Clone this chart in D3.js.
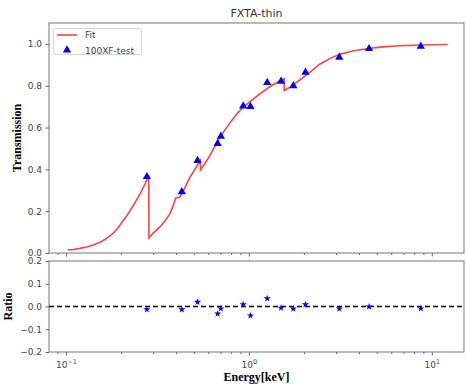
<!DOCTYPE html>
<html>
<head>
<meta charset="utf-8">
<script src="https://cdn.jsdelivr.net/npm/d3@7"></script>
<style>
  body { margin: 0; background: #fff; }
  svg { display: block; }
  .tick text { font-family: "DejaVu Sans", sans-serif; font-size: 9px; fill: #444; }
  .tick line { stroke: #666; }
  .domain { display: none; }
</style>
</head>
<body>
<svg></svg>
<script>
var width = 466;
var height = 389;

// fit curve (energy in keV, transmission)
var fit_energy = [0.102, 0.110, 0.119, 0.130, 0.141, 0.155, 0.167, 0.181, 0.192, 0.202, 0.213, 0.224, 0.238, 0.254, 0.270, 0.2835,
                  0.2845, 0.300, 0.327, 0.350, 0.370, 0.385, 0.398, 0.418, 0.440, 0.476, 0.505, 0.5425,
                  0.5435, 0.575, 0.612, 0.650, 0.694, 0.750, 0.805, 0.865, 0.931, 1.030, 1.148, 1.300, 1.477, 1.559,
                  1.561, 1.680, 1.823, 2.154, 2.440, 2.800, 3.140, 3.700, 4.400, 5.400, 6.690, 9.000, 12.20];
var fit_trans = [0.014, 0.017, 0.022, 0.029, 0.038, 0.053, 0.070, 0.094, 0.118, 0.146, 0.173, 0.202, 0.240, 0.282, 0.328, 0.372,
                 0.072, 0.095, 0.126, 0.157, 0.187, 0.224, 0.263, 0.266, 0.300, 0.362, 0.398, 0.442,
                 0.397, 0.428, 0.466, 0.508, 0.553, 0.596, 0.633, 0.668, 0.697, 0.729, 0.761, 0.795, 0.824, 0.833,
                 0.777, 0.793, 0.816, 0.864, 0.903, 0.932, 0.950, 0.966, 0.977, 0.986, 0.991, 0.995, 0.997];

// measured points
var data_energy = [0.277, 0.430, 0.524, 0.675, 0.703, 0.931, 1.020, 1.260, 1.500, 1.750, 2.040, 3.120, 4.540, 8.710];
var data_trans = [0.365, 0.293, 0.442, 0.523, 0.558, 0.703, 0.700, 0.815, 0.821, 0.800, 0.864, 0.936, 0.977, 0.988];
var data_ratio = [-0.013, -0.013, 0.020, -0.032, -0.009, 0.009, -0.040, 0.035, -0.006, -0.010, 0.009, -0.010, -0.001, -0.009];

var trans_ticks = [0.0, 0.2, 0.4, 0.6, 0.8, 1.0];
var ratio_ticks = [-0.2, -0.1, 0.0, 0.1, 0.2];
var x_major = [0.1, 1, 10];
var x_labels = ["\u22121", "0", "1"];
var x_minor = [0.09, 0.2, 0.3, 0.4, 0.5, 0.6, 0.7, 0.8, 0.9, 2, 3, 4, 5, 6, 7, 8, 9];

var left = 49, right = 464;
var top_y0 = 23, top_y1 = 253;
var bot_y0 = 261, bot_y1 = 352;

var x = d3.scaleLog().domain([0.0808, 15]).range([left, right]);
var y_top = d3.scaleLinear().domain([0, 1.1]).range([top_y1, top_y0]);
var y_bot = d3.scaleLinear().domain([-0.2, 0.2]).range([bot_y1, bot_y0]);

var svg = d3.select("svg").attr("width", width).attr("height", height);

var fit = fit_energy.map(function(e, i) { return { e: e, t: fit_trans[i] }; });
var pts = data_energy.map(function(e, i) { return { e: e, t: data_trans[i], r: data_ratio[i] }; });

// clip for top panel
svg.append("clipPath").attr("id", "clip-top")
  .append("rect").attr("x", left).attr("y", top_y0).attr("width", right - left).attr("height", top_y1 - top_y0);

// axes: top panel
function drawXAxis(y, labels) {
    var major = svg.append("g").attr("transform", "translate(0," + y + ")")
        .call(d3.axisBottom(x).tickValues(x_major).tickSize(3.5).tickPadding(3.5).tickFormat(function() { return ""; }));
    svg.append("g").attr("transform", "translate(0," + y + ")")
        .call(d3.axisBottom(x).tickValues(x_minor).tickSize(2).tickFormat(function() { return ""; }));
    if (labels) {
        major.selectAll(".tick text").each(function(d, i) {
            var t = d3.select(this).attr("y", 10).attr("dy", "0.71em");
            t.append("tspan").text("10");
            t.append("tspan").attr("dy", "-4").attr("font-size", "6.5px").text(x_labels[i]);
        });
    }
}
drawXAxis(top_y1, false);
drawXAxis(bot_y1, true);

svg.append("g").attr("transform", "translate(" + left + ",0)")
  .call(d3.axisLeft(y_top).tickValues(trans_ticks).tickSize(3.5).tickPadding(3.5).tickFormat(d3.format(".1f")));
svg.append("g").attr("transform", "translate(" + left + ",0)")
  .call(d3.axisLeft(y_bot).tickValues(ratio_ticks).tickSize(3.5).tickPadding(3.5)
    .tickFormat(function(d) { return d3.format(".1f")(d).replace("-", "\u2212"); }));

// frames
[[top_y0, top_y1], [bot_y0, bot_y1]].forEach(function(p) {
    svg.append("rect").attr("x", left).attr("y", p[0]).attr("width", right - left).attr("height", p[1] - p[0])
      .attr("fill", "none").attr("stroke", "#777").attr("stroke-width", 1);
});

// fit line
var line = d3.line().x(function(d) { return x(d.e); }).y(function(d) { return y_top(d.t); });
svg.append("path").datum(fit)
  .attr("clip-path", "url(#clip-top)")
  .attr("d", line)
  .attr("fill", "none").attr("stroke", "#ff2020").attr("stroke-opacity", 0.85).attr("stroke-width", 1.6);

// data triangles
var tri = d3.symbol().type(d3.symbolTriangle).size(30);
svg.append("g").selectAll("path").data(pts).enter().append("path")
  .attr("d", tri)
  .attr("transform", function(d) { return "translate(" + x(d.e) + "," + y_top(d.t) + ")"; })
  .attr("fill", "#0000ff");

// ratio zero line
svg.append("line").attr("x1", left).attr("x2", right).attr("y1", y_bot(0)).attr("y2", y_bot(0))
  .attr("stroke", "#000").attr("stroke-width", 1.3).attr("stroke-dasharray", "5,3");

var star = d3.symbol().type(d3.symbolStar).size(16);
svg.append("g").selectAll("path").data(pts).enter().append("path")
  .attr("d", star)
  .attr("transform", function(d) { return "translate(" + x(d.e) + "," + y_bot(d.r) + ")"; })
  .attr("fill", "#0000ff");

// legend
var lg = svg.append("g");
lg.append("rect").attr("x", 53.5).attr("y", 28.5).attr("width", 88).attr("height", 26).attr("rx", 2)
  .attr("fill", "#fff").attr("fill-opacity", 0.8).attr("stroke", "#ccc").attr("stroke-width", 0.8);
lg.append("line").attr("x1", 57).attr("x2", 77).attr("y1", 35).attr("y2", 35)
  .attr("stroke", "#ff2020").attr("stroke-opacity", 0.85).attr("stroke-width", 1.6);
lg.append("path").attr("d", tri).attr("transform", "translate(67,50)").attr("fill", "#0000ff");
lg.selectAll("text").data(["Fit", "100XF-test"]).enter().append("text")
  .attr("x", 85).attr("y", function(d, i) { return 35 + i * 15.5; }).attr("dy", "0.35em")
  .attr("font-family", "DejaVu Sans, sans-serif").attr("font-size", "9px").attr("fill", "#444")
  .text(function(d) { return d; });

// title and axis labels
svg.append("text").attr("x", (left + right) / 2).attr("y", 17).attr("text-anchor", "middle")
  .attr("font-family", "DejaVu Sans, sans-serif").attr("font-size", "11px").attr("fill", "#333")
  .text("FXTA-thin");

svg.append("text").attr("transform", "translate(21," + (top_y0 + top_y1) / 2 + ") rotate(-90)")
  .attr("text-anchor", "middle")
  .attr("font-family", "Liberation Serif, serif").attr("font-weight", "bold").attr("font-size", "12px")
  .text("Transmission");

svg.append("text").attr("transform", "translate(12," + (bot_y0 + bot_y1) / 2 + ") rotate(-90)")
  .attr("text-anchor", "middle")
  .attr("font-family", "Liberation Serif, serif").attr("font-weight", "bold").attr("font-size", "12px")
  .text("Ratio");

svg.append("text").attr("x", (left + right) / 2).attr("y", 381).attr("text-anchor", "middle")
  .attr("font-family", "Liberation Serif, serif").attr("font-weight", "bold").attr("font-size", "12px")
  .text("Energy[keV]");
</script>
</body>
</html>
